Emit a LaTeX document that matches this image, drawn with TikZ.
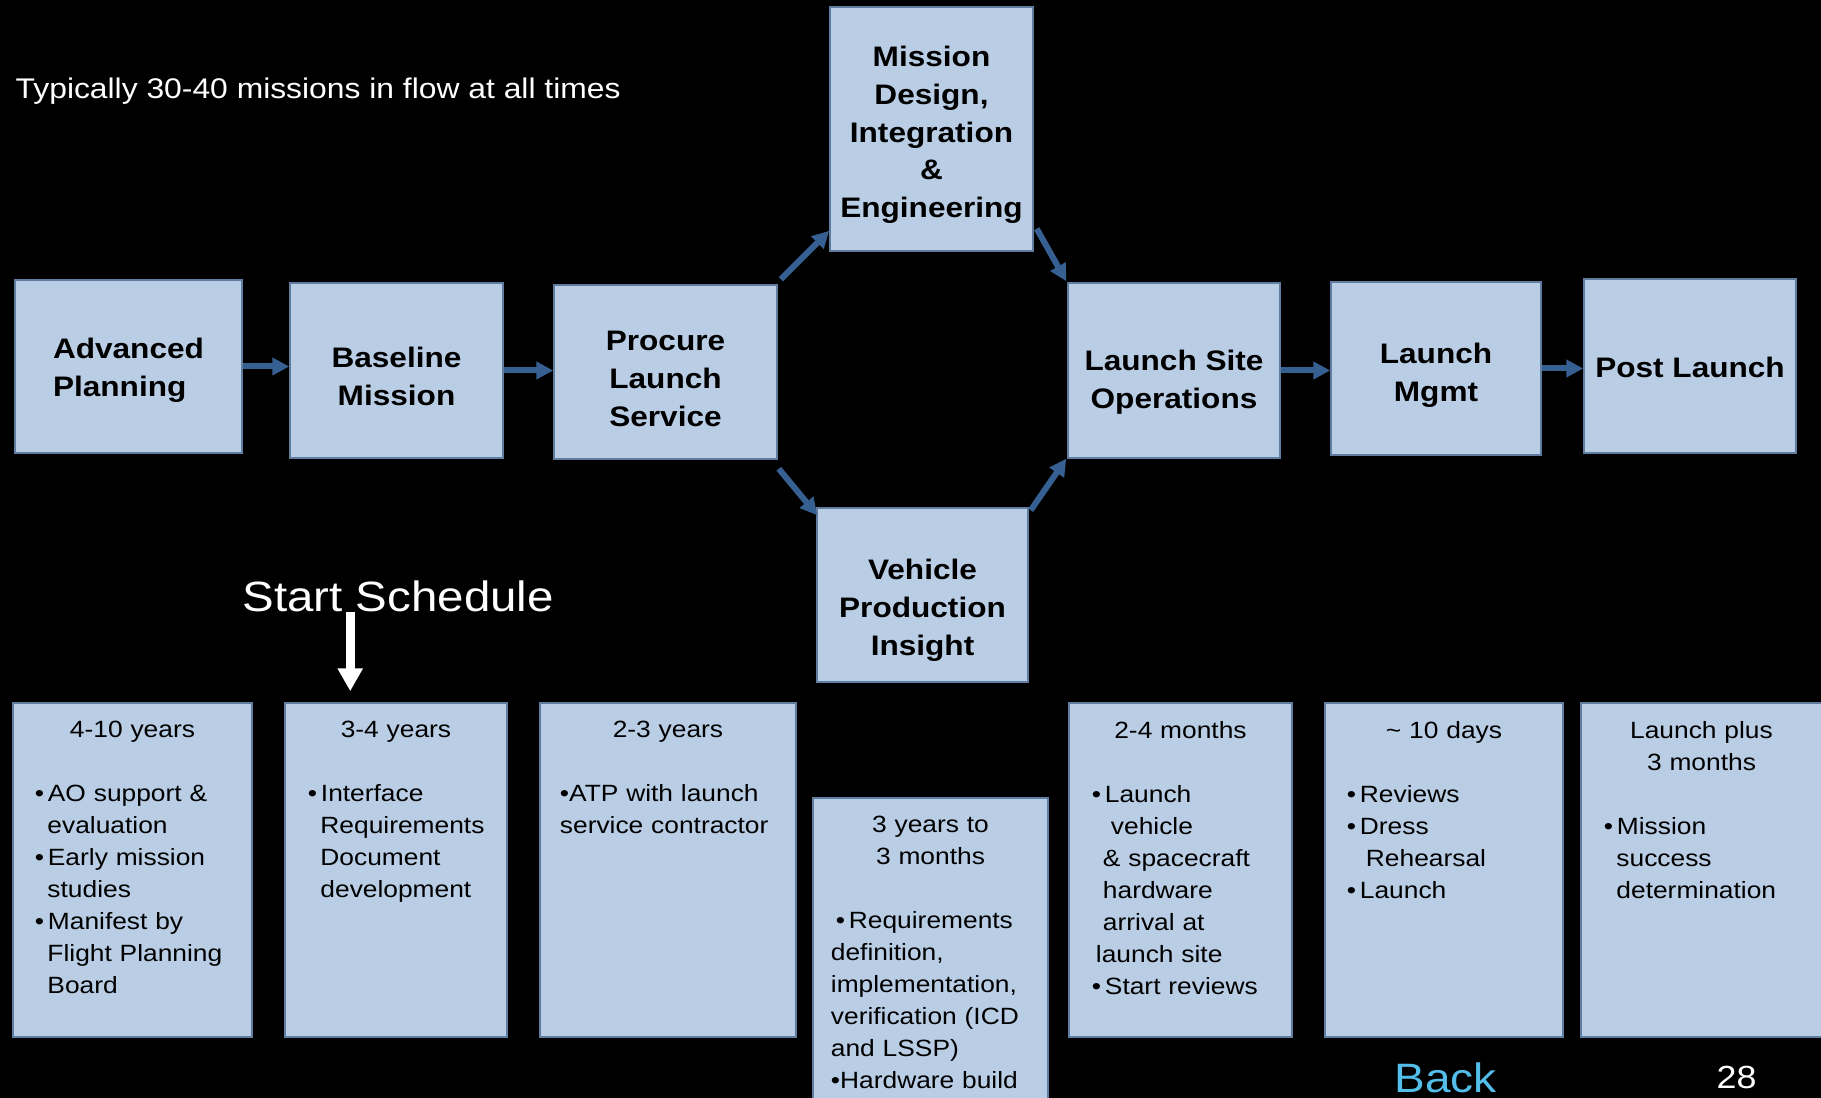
\documentclass[tikz,border=0pt]{standalone}
\usepackage{fontspec}
\setmainfont{Liberation Sans}[FakeStretch=1.12]
\usetikzlibrary{arrows.meta, calc, positioning}

\definecolor{boxfill}{RGB}{185,205,229}
\definecolor{boxline}{RGB}{96,125,160}
\definecolor{flowblue}{RGB}{55,96,146}
\definecolor{backblue}{RGB}{84,190,235}

\newcommand{\titlefont}{\fontsize{8.02pt}{10.73pt}\selectfont\bfseries}
\newcommand{\notefont}{\fontsize{6.69pt}{9.1pt}\selectfont\hyphenpenalty=10000\exhyphenpenalty=10000}
\newcommand{\bul}{\makebox[3.7pt][l]{\textbullet}}
\newcommand{\ind}{\hspace*{3.56pt}}

\tikzset{
  stage/.style={draw=boxline, line width=0.4pt, fill=boxfill, inner sep=0pt},
  titletext/.style={font=\titlefont, align=center, inner sep=0pt},
  span/.style={draw=boxline, line width=0.4pt, fill=boxfill, inner sep=0pt, minimum height=3.34cm},
  spantext/.style={anchor=north west, inner sep=0pt, font=\notefont, align=left},
  flow/.style={draw=flowblue, line width=1.71pt, -{Triangle[width=4.8pt, length=4.8pt]}},
  startflow/.style={draw=white, line width=2.56pt, -{Triangle[width=6.8pt, length=6.5pt]}},
}

\begin{document}
\begin{tikzpicture}[x=0.01cm, y=-0.01cm]
\useasboundingbox (0,0) rectangle (1821,1098);
\fill[black] (0,0) rectangle (1821,1098);

% flow of stages
\node[stage, minimum width=2.27cm, minimum height=1.73cm, label={[titletext, align=left, yshift=-1.1pt]center:{Advanced\\Planning}}] (ap) at (128.5,366.5) {};
\node[stage, minimum width=2.13cm, minimum height=1.75cm, label={[titletext, yshift=-1.7pt]center:{Baseline\\Mission}}] (bm) at (396.5,370.5) {};
\node[stage, minimum width=2.23cm, minimum height=1.74cm, label={[titletext, yshift=-2pt]center:{Procure\\Launch\\Service}}] (pls) at (665.5,372) {};
\node[stage, minimum width=2.03cm, minimum height=2.44cm, label={[titletext, yshift=-1.7pt]center:{Mission\\Design,\\Integration\\\&\\Engineering}}] (mdie) at (931.5,129) {};
\node[stage, minimum width=2.11cm, minimum height=1.74cm, label={[titletext, yshift=-4.3pt]center:{Vehicle\\Production\\Insight}}] (vpi) at (922.5,595) {};
\node[stage, minimum width=2.12cm, minimum height=1.75cm, label={[titletext, yshift=-3.4pt]center:{Launch Site\\Operations}}] (lso) at (1174,370.5) {};
\node[stage, minimum width=2.10cm, minimum height=1.73cm, label={[titletext, yshift=-2pt]center:{Launch\\Mgmt}}] (lm) at (1436,368.5) {};
\node[stage, minimum width=2.12cm, minimum height=1.74cm, label={[titletext, yshift=-0.3pt]center:{Post Launch}}] (pl) at (1690,366) {};

\draw[flow] (ap.east) -- (ap.east -| bm.west);
\draw[flow] (bm.east) -- (bm.east -| pls.west);
\draw[flow] ($(pls.north east)+(3,-5)$) -- ($(mdie.south west)+(0,-21)$);
\draw[flow] ($(pls.south east)+(1,9)$) -- ($(vpi.north west)+(1,8)$);
\draw[flow] ($(mdie.south east)+(3,-23)$) -- ($(lso.north west)+(-1,-1)$);
\draw[flow] ($(vpi.north east)+(2,3)$) -- ($(lso.south west)+(-1,0)$);
\draw[flow] (lso.east) -- (lso.east -| lm.west);
\draw[flow] (lm.east) -- (lm.east -| pl.west);

% time spans
\node[span, minimum width=2.39cm] (t1) at (132.5,870) {};
\node[span, minimum width=2.22cm] (t2) at (396,870) {};
\node[span, minimum width=2.56cm] (t3) at (668,870) {};
\node[span, minimum width=2.35cm, minimum height=3.12cm] (t4) at (930.5,954) {};
\node[span, minimum width=2.23cm] (t5) at (1180.5,870) {};
\node[span, minimum width=2.38cm] (t6) at (1444,870) {};
\node[span, minimum width=2.41cm] (t7) at (1701.5,870) {};

\node[spantext, text width=1.95cm] (t1txt) at ($(t1.north west)+(22,18.5)$) {{\centering 4-10 years\par}\vspace{9.1pt}
\bul AO support \&\\
\ind evaluation\\
\bul Early mission\\
\ind studies\\
\bul Manifest by\\
\ind Flight Planning\\
\ind Board};
\node[spantext, text width=1.80cm] (t2txt) at ($(t2.north west)+(21,18.5)$) {{\centering 3-4 years\par}\vspace{9.1pt}
\hspace*{0.57pt}\bul Interface\\
\ind\hspace*{0.57pt}Requirements\\
\ind\hspace*{0.57pt}Document\\
\ind\hspace*{0.57pt}development};
\node[spantext, text width=2.16cm] (t3txt) at ($(t3.north west)+(20,18.5)$) {{\centering 2-3 years\par}\vspace{9.1pt}
\textbullet ATP with launch\\
service contractor};
\node[spantext, text width=1.99cm] (t4txt) at ($(t4.north west)+(18,18.5)$) {{\centering 3 years to\\3 months\par}\vspace{9.1pt}
\hspace*{1.42pt}\bul Requirements\\
definition,\\
implementation,\\
verification (ICD\\
and LSSP)\\
\textbullet Hardware build};
\node[spantext, text width=1.77cm] (t5txt) at ($(t5.north west)+(23,18.5)$) {{\centering 2-4 months\par}\vspace{9.1pt}
\bul Launch\\
\hspace*{5.4pt}vehicle\\
\hspace*{3.13pt}\& spacecraft\\
\hspace*{3.13pt}hardware\\
\hspace*{3.13pt}arrival at\\
\hspace*{1.14pt}launch site\\
\bul Start reviews};
\node[spantext, text width=1.94cm] (t6txt) at ($(t6.north west)+(22,18.5)$) {{\centering \textasciitilde{} 10 days\par}\vspace{9.1pt}
\bul Reviews\\
\bul Dress\\
\hspace*{5.4pt}Rehearsal\\
\bul Launch};
\node[spantext, text width=1.95cm] (t7txt) at ($(t7.north west)+(23,18.5)$) {{\centering Launch plus\\3 months\par}\vspace{9.1pt}
\bul Mission\\
\ind success\\
\ind determination};

% free texts
\node[anchor=base west, inner sep=0pt, text=white, font=\fontsize{8.08pt}{9.7pt}\selectfont] (flowcount) at (15,99) {Typically 30-40 missions in flow at all times};
\node[anchor=base west, inner sep=0pt, text=white, font=\fontsize{12.04pt}{14pt}\selectfont] (startlbl) at (242,612) {Start Schedule};
\coordinate (schedtip) at ($(t2.north west)+(66,-11)$);
\draw[startflow] (startlbl.base -| schedtip) -- (schedtip);
\node[anchor=base west, inner sep=0pt, text=backblue, font=\fontsize{11.67pt}{14pt}\selectfont] (backlink) at (1394,1093) {Back};
\node[anchor=base west, inner sep=0pt, text=white, font=\fontsize{9.1pt}{11pt}\selectfont] (pagenum) at (1716,1088) {28};
\end{tikzpicture}
\end{document}
